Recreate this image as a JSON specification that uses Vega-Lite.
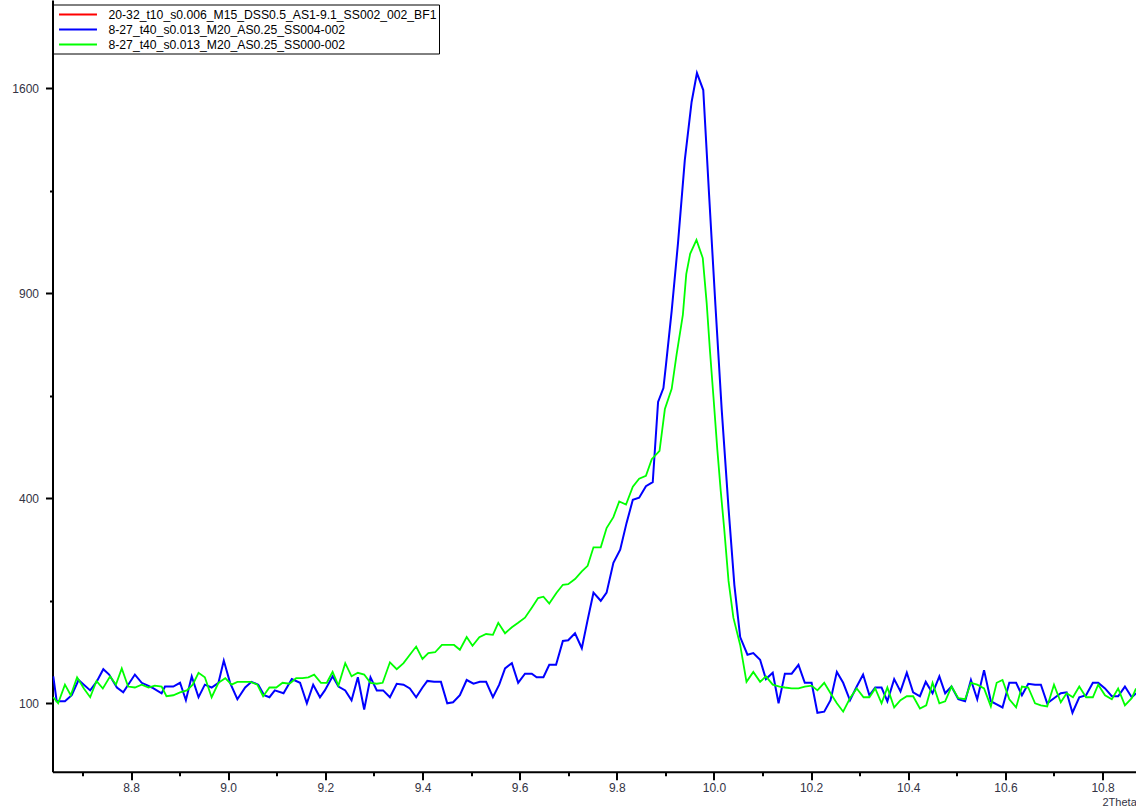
{
  "$schema": "https://vega.github.io/schema/vega-lite/v6.json",
  "width": 1083.5,
  "height": 771.7,
  "autosize": {"type": "none"},
  "padding": {"left": 52.5, "top": 0, "right": 0, "bottom": 39.3},
  "background": "white",
  "config": {"view": {"stroke": null}, "font": "Liberation Sans"},
  "datasets": {
    "blue": [
      {"twotheta": 8.640, "counts": 128}, {"twotheta": 8.647, "counts": 102}, {"twotheta": 8.664, "counts": 102}, {"twotheta": 8.678, "counts": 108},
      {"twotheta": 8.692, "counts": 124}, {"twotheta": 8.716, "counts": 113}, {"twotheta": 8.729, "counts": 122}, {"twotheta": 8.743, "counts": 136},
      {"twotheta": 8.755, "counts": 130}, {"twotheta": 8.771, "counts": 116}, {"twotheta": 8.784, "counts": 111}, {"twotheta": 8.808, "counts": 130},
      {"twotheta": 8.822, "counts": 121}, {"twotheta": 8.843, "counts": 116}, {"twotheta": 8.863, "counts": 110}, {"twotheta": 8.870, "counts": 117},
      {"twotheta": 8.887, "counts": 117}, {"twotheta": 8.901, "counts": 121}, {"twotheta": 8.913, "counts": 103}, {"twotheta": 8.925, "counts": 128},
      {"twotheta": 8.939, "counts": 106}, {"twotheta": 8.952, "counts": 119}, {"twotheta": 8.966, "counts": 116}, {"twotheta": 8.980, "counts": 121},
      {"twotheta": 8.991, "counts": 146}, {"twotheta": 9.004, "counts": 121}, {"twotheta": 9.019, "counts": 104}, {"twotheta": 9.035, "counts": 116},
      {"twotheta": 9.048, "counts": 122}, {"twotheta": 9.062, "counts": 119}, {"twotheta": 9.074, "counts": 108}, {"twotheta": 9.085, "counts": 106},
      {"twotheta": 9.096, "counts": 113}, {"twotheta": 9.114, "counts": 110}, {"twotheta": 9.131, "counts": 125}, {"twotheta": 9.148, "counts": 121},
      {"twotheta": 9.162, "counts": 100}, {"twotheta": 9.175, "counts": 119}, {"twotheta": 9.189, "counts": 106}, {"twotheta": 9.199, "counts": 113},
      {"twotheta": 9.215, "counts": 128}, {"twotheta": 9.227, "counts": 117}, {"twotheta": 9.241, "counts": 113}, {"twotheta": 9.254, "counts": 103},
      {"twotheta": 9.267, "counts": 127}, {"twotheta": 9.280, "counts": 94}, {"twotheta": 9.293, "counts": 127}, {"twotheta": 9.306, "counts": 113},
      {"twotheta": 9.319, "counts": 113}, {"twotheta": 9.333, "counts": 106}, {"twotheta": 9.347, "counts": 120}, {"twotheta": 9.361, "counts": 119},
      {"twotheta": 9.374, "counts": 115}, {"twotheta": 9.387, "counts": 106}, {"twotheta": 9.400, "counts": 116}, {"twotheta": 9.410, "counts": 123},
      {"twotheta": 9.424, "counts": 122}, {"twotheta": 9.438, "counts": 122}, {"twotheta": 9.451, "counts": 100}, {"twotheta": 9.463, "counts": 101},
      {"twotheta": 9.477, "counts": 108}, {"twotheta": 9.491, "counts": 124}, {"twotheta": 9.505, "counts": 120}, {"twotheta": 9.518, "counts": 122},
      {"twotheta": 9.531, "counts": 122}, {"twotheta": 9.545, "counts": 106}, {"twotheta": 9.558, "counts": 119}, {"twotheta": 9.570, "counts": 137},
      {"twotheta": 9.584, "counts": 143}, {"twotheta": 9.597, "counts": 121}, {"twotheta": 9.611, "counts": 131}, {"twotheta": 9.625, "counts": 131},
      {"twotheta": 9.635, "counts": 127}, {"twotheta": 9.649, "counts": 127}, {"twotheta": 9.661, "counts": 141}, {"twotheta": 9.675, "counts": 141},
      {"twotheta": 9.689, "counts": 170}, {"twotheta": 9.700, "counts": 171}, {"twotheta": 9.714, "counts": 180}, {"twotheta": 9.728, "counts": 161},
      {"twotheta": 9.740, "counts": 198}, {"twotheta": 9.752, "counts": 237}, {"twotheta": 9.767, "counts": 225}, {"twotheta": 9.779, "counts": 237},
      {"twotheta": 9.793, "counts": 284}, {"twotheta": 9.807, "counts": 306}, {"twotheta": 9.820, "counts": 353}, {"twotheta": 9.833, "counts": 397},
      {"twotheta": 9.846, "counts": 401}, {"twotheta": 9.860, "counts": 424}, {"twotheta": 9.874, "counts": 432}, {"twotheta": 9.885, "counts": 610},
      {"twotheta": 9.896, "counts": 644}, {"twotheta": 9.901, "counts": 700}, {"twotheta": 9.913, "counts": 849}, {"twotheta": 9.926, "counts": 1053},
      {"twotheta": 9.940, "counts": 1332}, {"twotheta": 9.954, "counts": 1547}, {"twotheta": 9.965, "counts": 1660}, {"twotheta": 9.978, "counts": 1593},
      {"twotheta": 9.990, "counts": 1211}, {"twotheta": 10.003, "counts": 866}, {"twotheta": 10.016, "counts": 591}, {"twotheta": 10.030, "counts": 381},
      {"twotheta": 10.042, "counts": 249}, {"twotheta": 10.054, "counts": 175}, {"twotheta": 10.069, "counts": 153}, {"twotheta": 10.081, "counts": 155},
      {"twotheta": 10.095, "counts": 147}, {"twotheta": 10.107, "counts": 125}, {"twotheta": 10.121, "counts": 132}, {"twotheta": 10.133, "counts": 100},
      {"twotheta": 10.146, "counts": 131}, {"twotheta": 10.160, "counts": 131}, {"twotheta": 10.174, "counts": 141}, {"twotheta": 10.187, "counts": 121},
      {"twotheta": 10.201, "counts": 121}, {"twotheta": 10.213, "counts": 91}, {"twotheta": 10.227, "counts": 92}, {"twotheta": 10.240, "counts": 103},
      {"twotheta": 10.253, "counts": 133}, {"twotheta": 10.266, "counts": 121}, {"twotheta": 10.280, "counts": 103}, {"twotheta": 10.294, "counts": 117},
      {"twotheta": 10.307, "counts": 130}, {"twotheta": 10.320, "counts": 108}, {"twotheta": 10.332, "counts": 116}, {"twotheta": 10.345, "counts": 116},
      {"twotheta": 10.357, "counts": 102}, {"twotheta": 10.371, "counts": 125}, {"twotheta": 10.384, "counts": 112}, {"twotheta": 10.397, "counts": 132},
      {"twotheta": 10.410, "counts": 111}, {"twotheta": 10.424, "counts": 107}, {"twotheta": 10.436, "counts": 122}, {"twotheta": 10.450, "counts": 110},
      {"twotheta": 10.464, "counts": 128}, {"twotheta": 10.476, "counts": 110}, {"twotheta": 10.489, "counts": 117}, {"twotheta": 10.503, "counts": 104},
      {"twotheta": 10.517, "counts": 102}, {"twotheta": 10.529, "counts": 124}, {"twotheta": 10.542, "counts": 104}, {"twotheta": 10.556, "counts": 135},
      {"twotheta": 10.570, "counts": 102}, {"twotheta": 10.582, "counts": 99}, {"twotheta": 10.594, "counts": 96}, {"twotheta": 10.608, "counts": 121},
      {"twotheta": 10.622, "counts": 121}, {"twotheta": 10.634, "counts": 108}, {"twotheta": 10.647, "counts": 120}, {"twotheta": 10.661, "counts": 119},
      {"twotheta": 10.673, "counts": 119}, {"twotheta": 10.686, "counts": 100}, {"twotheta": 10.700, "counts": 105}, {"twotheta": 10.714, "counts": 110},
      {"twotheta": 10.726, "counts": 111}, {"twotheta": 10.738, "counts": 91}, {"twotheta": 10.752, "counts": 106}, {"twotheta": 10.766, "counts": 108},
      {"twotheta": 10.780, "counts": 121}, {"twotheta": 10.791, "counts": 121}, {"twotheta": 10.805, "counts": 115}, {"twotheta": 10.819, "counts": 107},
      {"twotheta": 10.832, "counts": 107}, {"twotheta": 10.846, "counts": 117}, {"twotheta": 10.860, "counts": 106}, {"twotheta": 10.869, "counts": 110}
    ],
    "green": [
      {"twotheta": 8.640, "counts": 106}, {"twotheta": 8.650, "counts": 100}, {"twotheta": 8.664, "counts": 119}, {"twotheta": 8.676, "counts": 108},
      {"twotheta": 8.689, "counts": 127}, {"twotheta": 8.703, "counts": 115}, {"twotheta": 8.716, "counts": 106}, {"twotheta": 8.729, "counts": 123},
      {"twotheta": 8.742, "counts": 115}, {"twotheta": 8.757, "counts": 128}, {"twotheta": 8.769, "counts": 119}, {"twotheta": 8.781, "counts": 137},
      {"twotheta": 8.794, "counts": 117}, {"twotheta": 8.808, "counts": 116}, {"twotheta": 8.822, "counts": 119}, {"twotheta": 8.836, "counts": 116},
      {"twotheta": 8.849, "counts": 118}, {"twotheta": 8.863, "counts": 117}, {"twotheta": 8.873, "counts": 107}, {"twotheta": 8.887, "counts": 108},
      {"twotheta": 8.901, "counts": 111}, {"twotheta": 8.915, "counts": 113}, {"twotheta": 8.927, "counts": 119}, {"twotheta": 8.939, "counts": 132},
      {"twotheta": 8.952, "counts": 127}, {"twotheta": 8.966, "counts": 106}, {"twotheta": 8.980, "counts": 121}, {"twotheta": 8.994, "counts": 126},
      {"twotheta": 9.007, "counts": 119}, {"twotheta": 9.019, "counts": 122}, {"twotheta": 9.033, "counts": 122}, {"twotheta": 9.046, "counts": 122},
      {"twotheta": 9.060, "counts": 119}, {"twotheta": 9.072, "counts": 107}, {"twotheta": 9.085, "counts": 116}, {"twotheta": 9.099, "counts": 116},
      {"twotheta": 9.112, "counts": 121}, {"twotheta": 9.126, "counts": 120}, {"twotheta": 9.140, "counts": 126}, {"twotheta": 9.153, "counts": 126},
      {"twotheta": 9.165, "counts": 127}, {"twotheta": 9.177, "counts": 130}, {"twotheta": 9.191, "counts": 121}, {"twotheta": 9.203, "counts": 121},
      {"twotheta": 9.215, "counts": 133}, {"twotheta": 9.227, "counts": 118}, {"twotheta": 9.241, "counts": 143}, {"twotheta": 9.254, "counts": 128},
      {"twotheta": 9.267, "counts": 132}, {"twotheta": 9.280, "counts": 130}, {"twotheta": 9.293, "counts": 121}, {"twotheta": 9.306, "counts": 120},
      {"twotheta": 9.318, "counts": 121}, {"twotheta": 9.333, "counts": 144}, {"twotheta": 9.347, "counts": 136}, {"twotheta": 9.361, "counts": 143},
      {"twotheta": 9.374, "counts": 153}, {"twotheta": 9.387, "counts": 163}, {"twotheta": 9.400, "counts": 148}, {"twotheta": 9.412, "counts": 155},
      {"twotheta": 9.426, "counts": 156}, {"twotheta": 9.440, "counts": 165}, {"twotheta": 9.453, "counts": 165}, {"twotheta": 9.465, "counts": 165},
      {"twotheta": 9.477, "counts": 159}, {"twotheta": 9.491, "counts": 175}, {"twotheta": 9.503, "counts": 164}, {"twotheta": 9.517, "counts": 175},
      {"twotheta": 9.531, "counts": 179}, {"twotheta": 9.545, "counts": 178}, {"twotheta": 9.556, "counts": 194}, {"twotheta": 9.570, "counts": 180},
      {"twotheta": 9.584, "counts": 188}, {"twotheta": 9.597, "counts": 194}, {"twotheta": 9.611, "counts": 201}, {"twotheta": 9.625, "counts": 215},
      {"twotheta": 9.638, "counts": 229}, {"twotheta": 9.649, "counts": 231}, {"twotheta": 9.661, "counts": 221}, {"twotheta": 9.676, "counts": 237},
      {"twotheta": 9.689, "counts": 249}, {"twotheta": 9.700, "counts": 250}, {"twotheta": 9.714, "counts": 258}, {"twotheta": 9.728, "counts": 270},
      {"twotheta": 9.740, "counts": 279}, {"twotheta": 9.752, "counts": 310}, {"twotheta": 9.767, "counts": 310}, {"twotheta": 9.779, "counts": 344},
      {"twotheta": 9.793, "counts": 364}, {"twotheta": 9.805, "counts": 394}, {"twotheta": 9.819, "counts": 388}, {"twotheta": 9.833, "counts": 423},
      {"twotheta": 9.846, "counts": 439}, {"twotheta": 9.860, "counts": 445}, {"twotheta": 9.872, "counts": 480}, {"twotheta": 9.888, "counts": 498},
      {"twotheta": 9.899, "counts": 593}, {"twotheta": 9.913, "counts": 642}, {"twotheta": 9.923, "counts": 729}, {"twotheta": 9.936, "counts": 838},
      {"twotheta": 9.943, "counts": 957}, {"twotheta": 9.951, "counts": 1019}, {"twotheta": 9.964, "counts": 1063}, {"twotheta": 9.977, "counts": 1006},
      {"twotheta": 9.985, "counts": 872}, {"twotheta": 9.992, "counts": 736}, {"twotheta": 9.999, "counts": 622}, {"twotheta": 10.007, "counts": 500},
      {"twotheta": 10.014, "counts": 414}, {"twotheta": 10.021, "counts": 344}, {"twotheta": 10.030, "counts": 255}, {"twotheta": 10.040, "counts": 201},
      {"twotheta": 10.054, "counts": 165}, {"twotheta": 10.067, "counts": 122}, {"twotheta": 10.081, "counts": 133}, {"twotheta": 10.095, "counts": 122},
      {"twotheta": 10.107, "counts": 128}, {"twotheta": 10.121, "counts": 119}, {"twotheta": 10.135, "counts": 117}, {"twotheta": 10.146, "counts": 116},
      {"twotheta": 10.160, "counts": 115}, {"twotheta": 10.174, "counts": 115}, {"twotheta": 10.187, "counts": 117}, {"twotheta": 10.201, "counts": 118},
      {"twotheta": 10.213, "counts": 113}, {"twotheta": 10.227, "counts": 121}, {"twotheta": 10.240, "counts": 110}, {"twotheta": 10.253, "counts": 100},
      {"twotheta": 10.266, "counts": 92}, {"twotheta": 10.280, "counts": 105}, {"twotheta": 10.294, "counts": 115}, {"twotheta": 10.308, "counts": 106},
      {"twotheta": 10.320, "counts": 106}, {"twotheta": 10.332, "counts": 115}, {"twotheta": 10.345, "counts": 100}, {"twotheta": 10.357, "counts": 116},
      {"twotheta": 10.371, "counts": 96}, {"twotheta": 10.384, "counts": 103}, {"twotheta": 10.397, "counts": 107}, {"twotheta": 10.410, "counts": 107},
      {"twotheta": 10.424, "counts": 95}, {"twotheta": 10.437, "counts": 98}, {"twotheta": 10.450, "counts": 121}, {"twotheta": 10.464, "counts": 100},
      {"twotheta": 10.476, "counts": 102}, {"twotheta": 10.489, "counts": 117}, {"twotheta": 10.503, "counts": 105}, {"twotheta": 10.517, "counts": 104},
      {"twotheta": 10.529, "counts": 121}, {"twotheta": 10.542, "counts": 119}, {"twotheta": 10.556, "counts": 115}, {"twotheta": 10.570, "counts": 97},
      {"twotheta": 10.582, "counts": 121}, {"twotheta": 10.594, "counts": 124}, {"twotheta": 10.608, "counts": 104}, {"twotheta": 10.622, "counts": 96},
      {"twotheta": 10.634, "counts": 117}, {"twotheta": 10.647, "counts": 116}, {"twotheta": 10.661, "counts": 100}, {"twotheta": 10.673, "counts": 98},
      {"twotheta": 10.686, "counts": 97}, {"twotheta": 10.700, "counts": 119}, {"twotheta": 10.714, "counts": 101}, {"twotheta": 10.726, "counts": 110},
      {"twotheta": 10.739, "counts": 106}, {"twotheta": 10.752, "counts": 117}, {"twotheta": 10.766, "counts": 106}, {"twotheta": 10.780, "counts": 106},
      {"twotheta": 10.791, "counts": 119}, {"twotheta": 10.805, "counts": 108}, {"twotheta": 10.819, "counts": 104}, {"twotheta": 10.832, "counts": 115},
      {"twotheta": 10.846, "counts": 98}, {"twotheta": 10.860, "counts": 105}, {"twotheta": 10.869, "counts": 115}
    ]
  },
  "encoding": {
    "x": {
      "field": "twotheta", "type": "quantitative",
      "scale": {"domain": [8.6384, 10.8688], "nice": false, "zero": false},
      "axis": {
        "title": "2Theta", "titleX": 1049.5, "titleY": 31, "titleAlign": "left", "titleBaseline": "middle",
        "titleFontSize": 11, "titleFontWeight": "normal", "titleColor": "#333344", "titleFont": "Liberation Sans",
        "values": [8.7, 8.8, 8.9, 9.0, 9.1, 9.2, 9.3, 9.4, 9.5, 9.6, 9.7, 9.8, 9.9, 10.0, 10.1, 10.2, 10.3, 10.4, 10.5, 10.6, 10.7, 10.8],
        "labelExpr": "round(datum.value * 10) % 2 == 0 ? format(datum.value, '.1f') : ''",
        "labelFont": "Liberation Sans", "labelFontSize": 12, "labelColor": "#333344", "labelPadding": 3,
        "labelOverlap": false, "labelFlush": false,
        "tickSize": {"condition": {"test": "round(datum.value * 10) % 2 == 1", "value": 4}, "value": 8},
        "tickColor": "black", "tickWidth": 2,
        "domainColor": "black", "domainWidth": 2, "grid": false
      }
    },
    "y": {
      "field": "counts", "type": "quantitative",
      "scale": {"type": "sqrt", "domain": [44.4, 1963], "nice": false, "zero": false},
      "axis": {
        "title": null,
        "values": [100, 225, 400, 625, 900, 1225, 1600],
        "labelExpr": "round(sqrt(datum.value)) % 10 == 0 ? format(datum.value, 'd') : ''",
        "labelFont": "Liberation Sans", "labelFontSize": 12, "labelColor": "#333344", "labelPadding": 7,
        "labelOverlap": false,
        "tickSize": {"condition": {"test": "round(sqrt(datum.value)) % 10 != 0", "value": 3}, "value": 7},
        "tickColor": "black", "tickWidth": 2,
        "domainColor": "black", "domainWidth": 2, "grid": false
      }
    }
  },
  "layer": [
    {
      "data": {"name": "blue"},
      "mark": {"type": "line", "strokeWidth": 2, "clip": true},
      "encoding": {
        "color": {
          "datum": "8-27_t40_s0.013_M20_AS0.25_SS004-002",
          "type": "nominal",
          "scale": {
            "domain": ["20-32_t10_s0.006_M15_DSS0.5_AS1-9.1_SS002_002_BF1", "8-27_t40_s0.013_M20_AS0.25_SS004-002", "8-27_t40_s0.013_M20_AS0.25_SS000-002"],
            "range": ["#ff0000", "#0000ff", "#00ff00"]
          },
          "legend": {
            "title": null, "orient": "none", "legendX": 0.5, "legendY": 4.5, "direction": "vertical",
            "symbolType": "M-3,0H3", "symbolSize": 160, "symbolStrokeWidth": 2,
            "labelFont": "Liberation Sans", "labelFontSize": 12.2, "labelColor": "black", "labelLimit": 0,
            "labelOffset": 23, "rowPadding": 1, "padding": 2.5, "symbolOffset": 15,
            "strokeColor": "black", "fillColor": "white"
          }
        }
      }
    },
    {
      "data": {"name": "green"},
      "mark": {"type": "line", "strokeWidth": 1.8, "clip": true},
      "encoding": {
        "color": {"datum": "8-27_t40_s0.013_M20_AS0.25_SS000-002", "type": "nominal"}
      }
    }
  ]
}
